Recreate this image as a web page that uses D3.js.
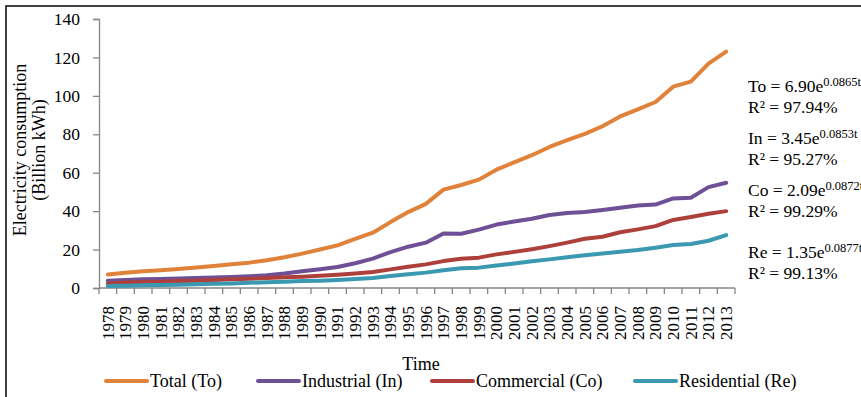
<!DOCTYPE html>
<html>
<head>
<meta charset="utf-8">
<script src="https://cdn.jsdelivr.net/npm/d3@7"></script>
<style>
  html, body { margin: 0; padding: 0; background: #fff; }
  svg { display: block; }
  text { font-family: "Liberation Serif", "Times New Roman", serif; fill: #000; }
</style>
</head>
<body>
<svg id="chart" width="861" height="397"></svg>
<script>
// Electricity consumption by sector, billion kWh
const years = d3.range(1978, 2014).map(String);

const total = [7.0, 7.9, 8.7, 9.3, 9.9, 10.7, 11.5, 12.3, 13.2, 14.4, 16.0, 17.9,
  20.0, 22.2, 25.6, 28.8, 34.3, 39.5, 43.8, 51.2, 53.6, 56.4, 61.6, 65.4,
  69.1, 73.4, 76.9, 80.2, 84.2, 89.3, 93.0, 96.8, 104.8, 107.4, 116.8, 123.0];

const industrial = [3.8, 4.2, 4.5, 4.7, 5.0, 5.2, 5.4, 5.7, 6.1, 6.6, 7.5, 8.7,
  9.8, 10.9, 12.9, 15.3, 18.7, 21.5, 23.6, 28.4, 28.2, 30.4, 33.0, 34.6,
  36.0, 38.0, 39.0, 39.5, 40.6, 41.8, 42.9, 43.4, 46.6, 47.0, 52.5, 54.8];

const commercial = [2.4, 2.8, 3.1, 3.3, 3.6, 3.8, 4.2, 4.5, 4.8, 5.2, 5.6, 5.9,
  6.4, 6.9, 7.6, 8.3, 9.7, 11.1, 12.3, 14.0, 15.2, 15.8, 17.5, 18.8,
  20.2, 21.8, 23.6, 25.6, 26.7, 29.0, 30.5, 32.2, 35.4, 37.0, 38.6, 40.0];

const residential = [1.0, 1.2, 1.4, 1.6, 1.7, 2.0, 2.2, 2.4, 2.7, 3.0, 3.3, 3.6,
  3.8, 4.2, 4.7, 5.2, 6.3, 7.2, 8.0, 9.2, 10.3, 10.6, 11.7, 12.8,
  13.9, 14.9, 16.0, 17.0, 17.9, 18.9, 19.8, 21.0, 22.4, 22.9, 24.6, 27.5];

const seriesNames = ["Total (To)", "Industrial (In)", "Commercial (Co)", "Residential (Re)"];
const seriesValues = [total, industrial, commercial, residential];

const yTicks = [0, 20, 40, 60, 80, 100, 120, 140];

// Exponential trend fits: symbol, coefficient, exponent, R²
const fitSymbols = ["To", "In", "Co", "Re"];
const fitCoef = ["6.90", "3.45", "2.09", "1.35"];
const fitExp = ["0.0865t", "0.0853t", "0.0872t", "0.0877t"];
const fitR2 = ["97.94%", "95.27%", "99.29%", "99.13%"];

// ---- presentation ----
const colors = ["#E0823A", "#6E5097", "#AE403C", "#3A99B0"];
const axisGrey = "#868686";
const serif = "'Liberation Serif', 'Times New Roman', serif";

const svg = d3.select("#chart");
svg.append("rect").attr("width", 861).attr("height", 397).attr("fill", "#fff");
// outer frame (right and bottom edges fall outside the canvas)
svg.append("rect")
  .attr("x", 6).attr("y", 6).attr("width", 900).attr("height", 450)
  .attr("fill", "none").attr("stroke", "#000").attr("stroke-width", 1.5);

const plot = { left: 99, right: 735, top: 19, bottom: 288 };

const x = d3.scaleBand().domain(years).range([plot.left, plot.right]).padding(0);
const y = d3.scaleLinear().domain([0, 140]).range([plot.bottom, plot.top]);

// Y axis
const yAxis = svg.append("g")
  .attr("transform", `translate(${plot.left},0)`)
  .attr("font-family", serif)
  .call(d3.axisLeft(y).tickValues(yTicks).tickSize(6).tickPadding(13).tickFormat(d3.format("d")));
yAxis.attr("font-family", serif);
yAxis.select(".domain").attr("stroke", axisGrey).attr("stroke-width", 1.3);
yAxis.selectAll(".tick line").attr("stroke", axisGrey).attr("stroke-width", 1.3);
yAxis.selectAll(".tick text").attr("font-size", 17.5).attr("fill", "#000")
  .style("font-family", serif);

// X axis: ticks sit on category boundaries
const xAxisG = svg.append("g").attr("transform", `translate(0,${plot.bottom})`);
xAxisG.append("line")
  .attr("x1", plot.left).attr("x2", plot.right)
  .attr("stroke", axisGrey).attr("stroke-width", 1.3);
const boundaries = years.map(d => x(d)).concat([x(years[years.length - 1]) + x.bandwidth()]);
xAxisG.selectAll("line.tk").data(boundaries).join("line")
  .attr("class", "tk")
  .attr("x1", d => d).attr("x2", d => d)
  .attr("y1", 0).attr("y2", 6)
  .attr("stroke", axisGrey).attr("stroke-width", 1.3);
xAxisG.selectAll("text").data(years).join("text")
  .attr("transform", d => `translate(${x(d) + x.bandwidth() / 2},18) rotate(-90)`)
  .attr("text-anchor", "end")
  .attr("dy", "0.35em")
  .attr("font-size", 17)
  .text(d => d);

// Series lines
const line = d3.line()
  .x((d, i) => x(years[i]) + x.bandwidth() / 2)
  .y(d => y(d));

svg.append("g").selectAll("path").data(seriesValues).join("path")
  .attr("d", d => line(d))
  .attr("fill", "none")
  .attr("stroke", (d, i) => colors[i])
  .attr("stroke-width", 4)
  .attr("stroke-linejoin", "round")
  .attr("stroke-linecap", "round");

// Axis titles
const yTitle = svg.append("text")
  .attr("transform", "translate(20,150) rotate(-90)")
  .attr("text-anchor", "middle")
  .attr("font-size", 18);
yTitle.append("tspan").attr("x", 0).attr("dy", "0.35em").text("Electricity consumption");
yTitle.append("tspan").attr("x", 0).attr("dy", "1.05em").text("(Billion kWh)");

svg.append("text")
  .attr("x", 421).attr("y", 370)
  .attr("text-anchor", "middle")
  .attr("font-size", 18)
  .text("Time");

// Legend
const legendLineX = [106, 258, 432, 635];
const legend = svg.append("g").selectAll("g").data(seriesNames).join("g")
  .attr("transform", (d, i) => `translate(${legendLineX[i]},381)`);
legend.append("line")
  .attr("x1", 0).attr("x2", 41)
  .attr("stroke", (d, i) => colors[i])
  .attr("stroke-width", 4)
  .attr("stroke-linecap", "round");
legend.append("text")
  .attr("x", 44).attr("dy", "0.35em")
  .attr("font-size", 18)
  .text(d => d);

// Trend equations
const eqBaseline = [92, 144, 196, 258];
const eq = svg.append("g").selectAll("g").data(fitSymbols).join("g")
  .attr("transform", (d, i) => `translate(748,${eqBaseline[i]})`);
const eqLine = eq.append("text").attr("font-size", 17.5);
eqLine.append("tspan").text((d, i) => `${d} = ${fitCoef[i]}e`);
eqLine.append("tspan").attr("dy", -6).attr("font-size", 12.5).text((d, i) => fitExp[i]);
eq.append("text")
  .attr("y", 21)
  .attr("font-size", 17.5)
  .text((d, i) => `R² = ${fitR2[i]}`);
</script>
</body>
</html>
